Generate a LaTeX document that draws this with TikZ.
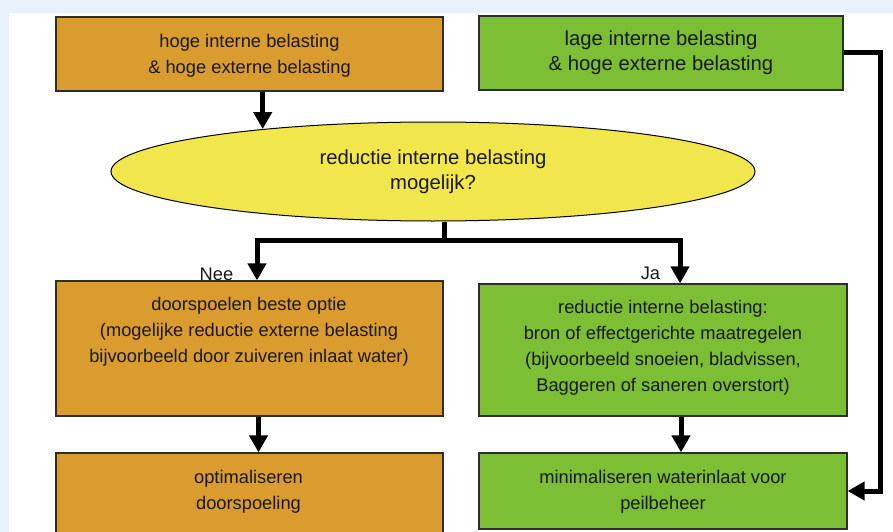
\documentclass[tikz,border=0pt]{standalone}
\usepackage{fontspec}
\setmainfont{Liberation Sans}
\usetikzlibrary{shapes.geometric, arrows.meta}

\definecolor{oranje}{RGB}{219,156,47}
\definecolor{groen}{RGB}{124,190,52}
\definecolor{geel}{RGB}{241,231,76}
\definecolor{achtergrond}{RGB}{233,242,250}
\definecolor{rand}{RGB}{45,45,45}

\begin{document}
\begin{tikzpicture}[x=1pt, y=-1pt,
    blok/.style={draw=rand, line width=1.2pt, inner sep=0pt},
    tekst/.style={align=center, inner sep=0pt, text=black!90, font=\fontsize{18.3}{26}\selectfont},
    groot/.style={font=\fontsize{20.3}{25}\selectfont},
    pijl/.style={line width=5pt, -{Triangle[length=17pt, width=18pt]}},
    lijn/.style={line width=5pt}]
    % achtergrond
    \fill[achtergrond] (0,0) rectangle (893,532);
    \fill[white] (9,13) rectangle (893,532);
    \clip (0,0) rectangle (893,532);

    % bovenste rij
    \node[blok, fill=oranje, minimum width=387pt, minimum height=74pt] (hoog) at (249.5,54) {};
    \node[tekst] (hoogtxt) at (249.5,56) {hoge interne belasting\\\& hoge externe belasting};
    \node[blok, tekst, groot, fill=groen, minimum width=364pt, minimum height=74pt] (laag) at (661,53) {lage interne belasting\\\& hoge externe belasting};

    % vraag
    \node[ellipse, draw=black, line width=1pt, fill=geel, minimum width=644pt, minimum height=99pt, tekst, groot] (vraag) at (433,171.5) {reductie interne belasting\\mogelijk?};

    % Nee
    \node[blok, fill=oranje, minimum width=387pt, minimum height=135pt] (door) at (249.5,348.5) {};
    \node[tekst] (doortxt) at (249,332) {doorspoelen beste optie\\(mogelijke reductie externe belasting\\bijvoorbeeld door zuiveren inlaat water)};
    \node[blok, fill=oranje, minimum width=387pt, minimum height=92pt] (opt) at (249.5,499) {};
    \node[tekst] (opttxt) at (248.5,492) {optimaliseren\\doorspoeling};

    % Ja
    \node[blok, fill=groen, minimum width=368pt, minimum height=132pt] (maatr) at (663,350) {};
    \node[tekst] (maatrtxt) at (663,347.5) {reductie interne belasting:\\bron of effectgerichte maatregelen\\(bijvoorbeeld snoeien, bladvissen,\\Baggeren of saneren overstort)};
    \node[blok, fill=groen, minimum width=368pt, minimum height=76pt] (minwat) at (663,491) {};
    \node[tekst] (minwattxt) at (663,491.5) {minimaliseren waterinlaat voor\\peilbeheer};

    % labels
    \node[tekst, anchor=base] (nee) at (216.5,280) {Nee};
    \node[tekst, anchor=base] (ja) at (650.5,279.5) {Ja};

    % pijlen
    \coordinate (splits) at (444,240);
    \draw[pijl] (hoog.south -| vraag.166.6) -- (vraag.166.6);
    \draw[lijn] (vraag.south -| splits) -- (splits);
    \draw[pijl] (splits) -| ([xshift=7.5pt]door.north);
    \draw[pijl] (splits) -| ([xshift=17pt]maatr.north);
    \draw[pijl] ([xshift=9pt]door.south) -- ([xshift=9pt]door.south |- opt.north);
    \draw[pijl] ([xshift=18pt]maatr.south) -- ([xshift=18pt]maatr.south |- minwat.north);
    \draw[pijl] (laag.east) -- ++(37,0) |- (minwat.east);
\end{tikzpicture}
\end{document}
